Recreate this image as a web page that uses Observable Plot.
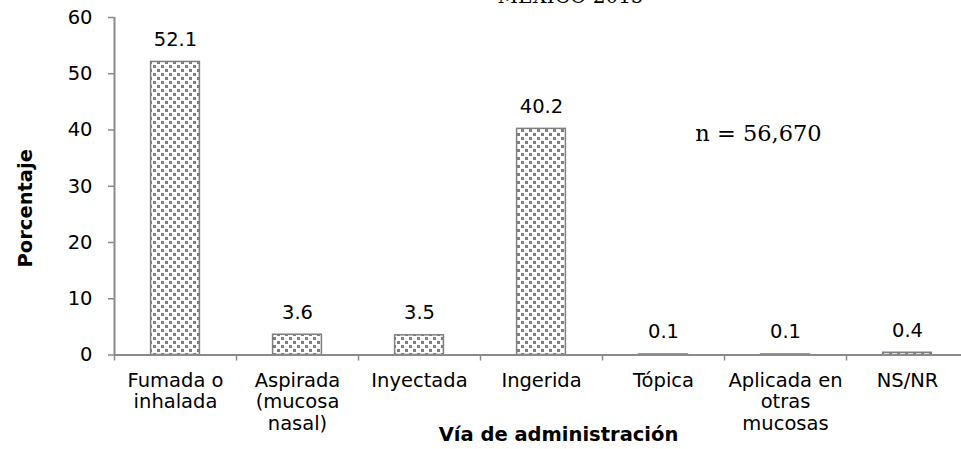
<!DOCTYPE html>
<html><head><meta charset="utf-8">
<script src="https://cdn.jsdelivr.net/npm/d3@7"></script>
<script src="https://cdn.jsdelivr.net/npm/@observablehq/plot@0.6"></script>
<style>html,body{margin:0;padding:0;background:#fff;overflow:hidden} svg{overflow:hidden !important;display:block}</style>
</head><body><div id="chart"></div>
<script>
const categories = ["Fumada o\ninhalada", "Aspirada\n(mucosa\nnasal)", "Inyectada", "Ingerida", "Tópica", "Aplicada en\notras\nmucosas", "NS/NR"];
const values = [52.1, 3.6, 3.5, 40.2, 0.1, 0.1, 0.4];
const yTicks = [0, 10, 20, 30, 40, 50, 60];
const title = "MÉXICO 2015";
const note = "n = 56,670";
const xTitle = "Vía de administración";
const yTitle = "Porcentaje";

const data = categories.map((c, i) => ({cat: c, i, value: values[i], label: values[i].toFixed(1)}));
const bounds = d3.range(categories.length + 1);
const gray = "#8a8a8a";
const sans = "'DejaVu Sans', sans-serif";
const serif = "'DejaVu Serif', serif";
const fs = 19.5;

const chart = Plot.plot({
  width: 961, height: 449,
  marginLeft: 114, marginRight: -7, marginTop: 17, marginBottom: 94.5,
  style: {fontFamily: sans, fontSize: fs + "px", color: "#000", background: "#fff"},
  x: {type: "linear", domain: [0, categories.length], axis: null},
  y: {domain: [0, 60], axis: null},
  marks: [
    Plot.rectY(data, {x1: d => d.i + 0.3, x2: d => d.i + 0.7, y: "value", fill: "url(#checker)", stroke: "#7f7f7f", strokeWidth: 1.5}),
    Plot.axisY({ticks: yTicks, tickSize: 6, tickPadding: 16, stroke: gray, strokeWidth: 1.5, fontSize: fs, label: null}),
    Plot.axisX({ticks: bounds, tickSize: 6, tickFormat: () => "", stroke: gray, strokeWidth: 1.5, label: null}),
    Plot.ruleX([0], {y1: 0, y2: 60, stroke: gray, strokeWidth: 2}),
    Plot.ruleY([0], {stroke: gray, strokeWidth: 2}),
    Plot.text(data, {x: d => d.i + 0.5, y: "value", text: "label", lineAnchor: "bottom", dy: -16, fontSize: fs}),
    Plot.text(data, {x: d => d.i + 0.5, frameAnchor: "bottom", text: "cat", lineAnchor: "top", dy: 16.5, lineHeight: 1.1, fontSize: fs}),
    Plot.text([xTitle], {frameAnchor: "bottom", dx: 17, dy: 86, lineAnchor: "bottom", fontWeight: "bold", fontSize: fs}),
    Plot.text([yTitle], {frameAnchor: "left", textAnchor: "middle", rotate: -90, dx: -89, dy: 22, fontWeight: "bold", fontSize: fs}),
    Plot.text([note], {frameAnchor: "top-left", textAnchor: "middle", lineAnchor: "middle", dx: 644, dy: 116, fontFamily: serif, fontSize: 22.5}),
    Plot.text([title], {frameAnchor: "top-left", textAnchor: "middle", dx: 456, dy: -14.5, lineAnchor: "bottom", fontFamily: serif, fontSize: 20})
  ]
});

const defs = d3.select(chart).insert("defs", ":first-child");
const p = defs.append("pattern").attr("id", "checker").attr("width", 8).attr("height", 8).attr("patternUnits", "userSpaceOnUse");
p.append("rect").attr("width", 8).attr("height", 8).attr("fill", "#fff");
p.append("rect").attr("x", 1).attr("y", 1).attr("width", 3).attr("height", 3).attr("fill", "#7f7f7f");
p.append("rect").attr("x", 5).attr("y", 5).attr("width", 3).attr("height", 3).attr("fill", "#7f7f7f");

document.getElementById("chart").append(chart);
</script>
</body></html>
